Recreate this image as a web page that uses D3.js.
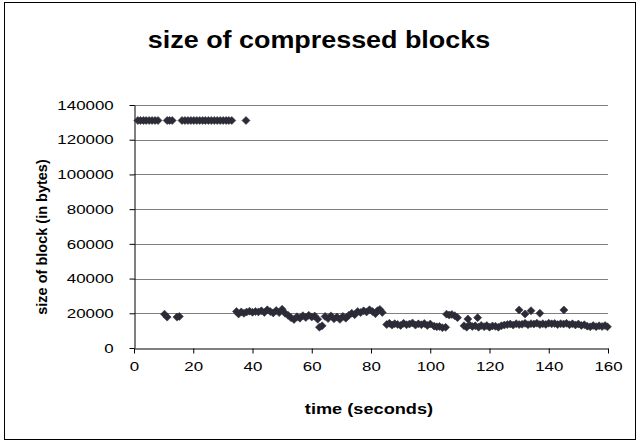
<!DOCTYPE html>
<html><head><meta charset="utf-8">
<script src="https://cdn.jsdelivr.net/npm/d3@7"></script>
<style>
html,body{margin:0;padding:0;background:#fff;}
svg{display:block;font-family:"Liberation Sans",Arial,sans-serif;}
</style></head>
<body>
<svg id="chart" width="640" height="444"></svg>
<script>
// ---- data ----
const title = "size of compressed blocks";
const xTitle = "time (seconds)";
const yTitle = "size of block (in bytes)";
const xTicks = [0, 20, 40, 60, 80, 100, 120, 140, 160];
const yTicks = [0, 20000, 40000, 60000, 80000, 100000, 120000, 140000];

// uncompressed blocks (upper row)
const topTimes = [1.3, 2.2, 3.2, 4.1, 5.1, 6.1, 7.1, 8.1, 11.2, 12.0, 12.9,
  16.2, 17.2, 18.2, 19.2, 20.2, 21.2, 22.2, 23.2, 24.1, 25.1, 26.1, 27.1, 28.1, 29.1, 30.1, 31.1, 32.0, 33.0, 37.8];
const topSizes = [131072, 131072, 131072, 131072, 131072, 131072, 131072, 131072, 131072, 131072, 131072,
  131072, 131072, 131072, 131072, 131072, 131072, 131072, 131072, 131072, 131072, 131072, 131072, 131072, 131072, 131072, 131072, 131072, 131072, 131072];

// compressed blocks (lower band)
const lowTimes = [10.3, 11.2, 14.5, 15.3,
  34.6, 35.3, 36.2, 37.1, 38.0, 39.0, 40.0, 41.0, 42.0, 43.0, 44.0, 45.0, 46.0, 47.0, 48.0, 49.0, 50.0,
  51.0, 52.0, 53.0, 54.0, 55.0, 56.0, 57.0, 58.0, 59.0, 60.0, 61.0, 62.0, 62.6, 63.5,
  64.5, 65.5, 66.5, 67.5, 68.5, 69.5, 70.5, 71.5, 72.5, 73.5, 74.5, 75.5, 76.5, 77.5, 78.5, 79.5,
  80.5, 81.5, 82.2, 83.0, 83.8,
  85.3, 86.2, 87.1, 88.0, 89.0, 90.0, 91.0, 92.0, 93.0, 94.0, 95.0, 96.0, 97.0, 98.0, 99.0, 100.0,
  101.3, 102.2, 103.1, 104.1, 105.2,
  105.5, 106.4, 107.3, 108.3, 109.2,
  111.4, 112.3, 112.7, 113.3, 114.2, 115.2, 116.0, 116.3, 117.2, 118.2, 119.1, 120.0,
  121.0, 122.0, 123.0, 124.0, 125.0, 126.0, 127.0, 128.0, 129.0, 130.0, 130.0, 131.0, 132.0, 132.0,
  133.0, 134.0, 134.0, 135.0, 136.0, 137.0, 137.0, 138.0, 139.0, 140.0,
  141.0, 142.0, 143.0, 144.0, 145.0, 145.1, 146.0, 147.0, 148.0, 149.0, 150.0,
  151.0, 152.0, 153.0, 154.0, 155.0, 156.0, 157.0, 158.0, 159.0, 159.8];
const lowSizes = [19500, 17800, 17800, 18200,
  21000, 19600, 20800, 20000, 20700, 21200, 20600, 21000, 20800, 21400, 20500, 22000, 21000, 20200, 21600, 20400, 22300,
  20000, 18800, 17500, 16400, 18000, 17200, 18600, 17600, 18800, 17900, 18400, 16600, 12000, 12800,
  18200, 17000, 18500, 16800, 17800, 16500, 18200, 17200, 18800, 20000, 19200, 21000, 20400, 21400, 20800, 22000,
  21000, 19800, 21500, 22200, 20500,
  13500, 14200, 13200, 14000, 13600, 13000, 14200, 13400, 13800, 14400, 13200, 13900, 13400, 14100, 13000, 13800,
  12600, 12200, 12400, 11700, 11900,
  19500, 19000, 19300, 18600, 17500,
  12800, 12000, 16700, 13200, 12400, 12800, 17500, 12000, 13000, 12300, 12900, 12000,
  12700, 12500, 12000, 12800, 13200, 13500, 13800, 13200, 14000, 13500, 21900, 13700, 14200, 19600,
  13400, 14000, 21500, 13800, 14300, 13500, 20000, 14000, 13600, 14300,
  13900, 14100, 13500, 14000, 13800, 21900, 14200, 13400, 13900, 13300, 13800,
  13000, 13400, 12600, 12200, 12900, 12300, 12800, 12400, 12900, 12200];

// ---- layout ----
const svg = d3.select("#chart");
const plot = {left: 134, right: 608, top: 105, bottom: 348};
const stretch = 1.3; // text in the reference is horizontally widened

svg.append("rect").attr("x", 4.5).attr("y", 2.5).attr("width", 631).attr("height", 437)
  .attr("fill", "#fff").attr("stroke", "#000").attr("stroke-width", 1);

const x = d3.scaleLinear().domain([0, 160]).range([plot.left, plot.right]);
const y = d3.scaleLinear().domain([0, 140000]).range([plot.bottom, plot.top]);

// gridlines
svg.append("g").selectAll("line").data(yTicks.filter(d => d > 0)).join("line")
  .attr("x1", plot.left).attr("x2", plot.right)
  .attr("y1", d => Math.round(y(d)) + 0.5).attr("y2", d => Math.round(y(d)) + 0.5)
  .attr("stroke", "#808080").attr("stroke-width", 1);

// axes
const xAxis = svg.append("g").attr("transform", `translate(0,${plot.bottom + 0.5})`)
  .call(d3.axisBottom(x).tickValues(xTicks).tickSize(5).tickSizeOuter(0).tickPadding(8).tickFormat(d3.format("d")));
const yAxis = svg.append("g").attr("transform", `translate(${plot.left + 0.5},0)`)
  .call(d3.axisLeft(y).tickValues(yTicks).tickSize(5).tickSizeOuter(0).tickPadding(11).tickFormat(d3.format("d")));
[xAxis, yAxis].forEach(g => {
  g.select(".domain").attr("stroke", "#000");
  g.selectAll(".tick line").attr("stroke", "#000");
  g.selectAll(".tick text").attr("fill", "#000").style("font-size", "13px")
    .style("font-family", '"Liberation Sans", Arial, sans-serif')
    .attr("transform", `scale(${stretch},1)`);
});

// markers
const diamond = "M0,-4L4,0L0,4L-4,0Z";
const pts = topTimes.map((t, i) => [t, topSizes[i]]).concat(lowTimes.map((t, i) => [t, lowSizes[i]]));
svg.append("g").selectAll("path").data(pts).join("path")
  .attr("d", diamond)
  .attr("transform", d => `translate(${x(d[0])},${y(d[1])})`)
  .attr("fill", "#2a2a3a").attr("stroke", "#333").attr("stroke-width", 0.6);

// titles
svg.append("text").attr("transform", `translate(319,48) scale(1.17,1)`).attr("text-anchor", "middle")
  .style("font-size", "23px").style("font-weight", "bold").text(title);
svg.append("text").attr("transform", `translate(369,414) scale(${stretch},1)`).attr("text-anchor", "middle")
  .style("font-size", "14px").style("font-weight", "bold").text(xTitle);
svg.append("text").attr("transform", "translate(47,237) rotate(-90)").attr("text-anchor", "middle")
  .style("font-size", "14.5px").style("font-weight", "bold").text(yTitle);
</script>
</body></html>
